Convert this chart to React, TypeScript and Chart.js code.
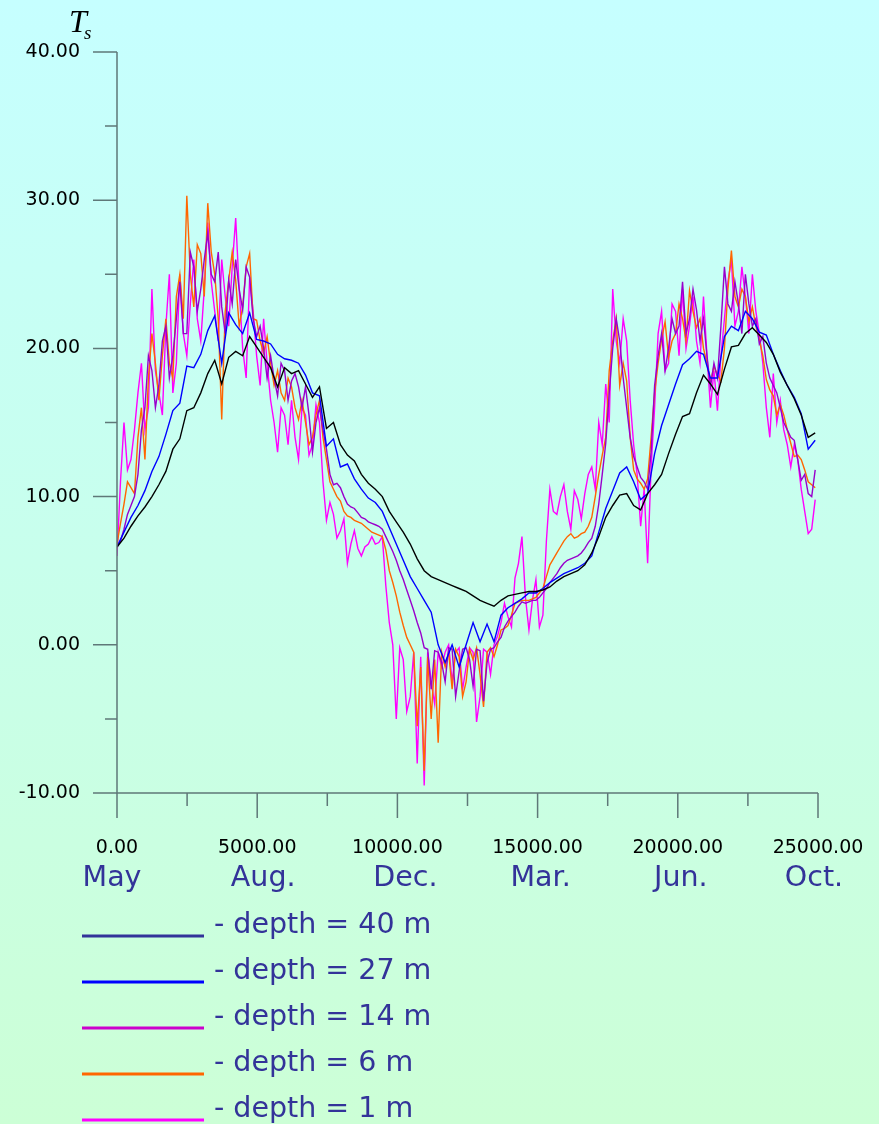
import React, { useEffect, useRef } from "react";
import { Chart, registerables } from "chart.js";

Chart.register(...registerables);

// x spacing of the samples (model time units)
const X_STEP = 249; // 40 m and 27 m records
const FINE_STEP = 124.5; // 14 m, 6 m and 1 m records
const X_MIN = 0;
const X_MAX = 25000;
const Y_MIN = -10;
const Y_MAX = 40;
const X_TICKS = [0, 5000, 10000, 15000, 20000, 25000];
const MONTH_LABELS = ["May", "Aug.", "Dec.", "Mar.", "Jun.", "Oct."];
const Y_TICKS = [-10, 0, 10, 20, 30, 40];
const SERIES_LABELS = [
  "- depth = 40 m",
  "- depth = 27 m",
  "- depth = 14 m",
  "- depth = 6 m",
  "- depth = 1 m",
];
const LINE_COLORS = ["#000000", "#0000ff", "#9900cc", "#ff6600", "#ff00ff"];
const LEGEND_COLORS = ["#333399", "#0000ff", "#cc00cc", "#ff6600", "#ff00ff"];

const DEPTH_40 = [
  6.6, 7.2, 8.0, 8.7, 9.3, 10.0, 10.8, 11.7, 13.2, 13.9,
  15.8, 16.0, 17.0, 18.3, 19.2, 17.6, 19.4, 19.8, 19.5, 20.8,
  20.1, 19.4, 18.7, 17.4, 18.7, 18.3, 18.5, 17.6, 16.7, 17.4,
  14.6, 15.0, 13.5, 12.8, 12.4, 11.5, 10.9, 10.5, 10.0, 9.0,
  8.3, 7.6, 6.8, 5.8, 5.0, 4.6, 4.4, 4.2, 4.0, 3.8,
  3.6, 3.3, 3.0, 2.8, 2.6, 3.0, 3.3, 3.4, 3.5, 3.6,
  3.6, 3.7, 3.9, 4.3, 4.6, 4.8, 5.0, 5.4, 6.2, 7.3,
  8.6, 9.4, 10.1, 10.2, 9.4, 9.1, 10.2, 10.8, 11.5, 12.9,
  14.2, 15.4, 15.6, 17.0, 18.2, 17.6, 16.9, 18.6, 20.1, 20.2,
  21.0, 21.4, 20.9, 20.4, 19.6, 18.4, 17.5, 16.6, 15.5, 14.0, 14.3,
];

const DEPTH_27 = [
  6.6, 7.6, 8.6, 9.4, 10.4, 11.7, 12.7, 14.2, 15.8, 16.3,
  18.8, 18.7, 19.6, 21.2, 22.2, 19.0, 22.4, 21.6, 21.0, 22.4,
  20.6, 20.5, 20.3, 19.6, 19.3, 19.2, 19.0, 18.2, 17.0, 16.8,
  13.4, 13.9, 12.0, 12.2, 11.2, 10.5, 9.9, 9.6, 9.0, 7.9,
  6.8, 5.7, 4.6, 3.8, 3.0, 2.2, 0.0, -1.2, 0.0, -1.5,
  0.0, 1.5, 0.2, 1.4, 0.2, 2.0, 2.5, 2.8, 3.1, 3.5,
  3.5, 3.8, 4.2, 4.5, 4.8, 5.0, 5.2, 5.5, 6.0, 7.6,
  9.2, 10.4, 11.6, 12.0, 11.0, 9.8, 10.2, 12.9, 14.8, 16.2,
  17.6, 18.9, 19.3, 19.8, 19.6, 18.0, 18.0, 20.8, 21.5, 21.2,
  22.5, 22.0, 21.1, 20.9, 19.6, 18.5, 17.5, 16.7, 15.6, 13.2, 13.8,
];

const DEPTH_14 = [
  6.6, 7.0, 7.8, 8.8, 9.4, 10.0, 11.5, 14.5, 16.0, 19.5, 18.5, 16.0, 17.5, 20.5, 21.5, 18.0, 19.5, 22.0, 24.5, 21.0,
  21.0, 26.5, 25.5, 22.5, 24.0, 26.0, 27.8, 25.0, 24.5, 26.5, 22.8, 21.0, 24.6, 23.0, 26.0, 24.0, 22.6, 25.5, 24.8, 22.0,
  20.8, 21.5, 20.0, 18.0, 19.5, 18.0, 16.8, 19.0, 18.5, 16.5, 17.8, 18.3, 17.4, 16.0, 17.4, 15.5, 13.0, 15.0, 16.0, 14.5,
  13.2, 11.5, 10.8, 10.9, 10.6, 10.0, 9.5, 9.3, 9.2, 8.9, 8.6, 8.5, 8.3, 8.2, 8.1, 8.0, 7.8, 7.3, 6.8, 6.3,
  5.7, 5.0, 4.4, 3.7, 3.0, 2.3, 1.5, 0.8, -0.2, -0.3, -3.0, -0.4, -0.5, -1.2, -2.5, -0.2, -0.3, -3.5, -1.8, -0.3,
  -0.2, -1.0, -2.8, -0.3, -0.4, -3.8, -1.2, -0.3, -0.2, 0.2, 0.5, 1.2, 1.6, 1.9, 2.2, 2.6, 2.9, 2.8, 2.9, 3.0,
  3.0, 3.2, 3.5, 3.8, 4.2, 4.5, 4.8, 5.2, 5.5, 5.7, 5.8, 5.9, 6.0, 6.2, 6.5, 6.9, 7.2, 8.0, 9.5, 11.5,
  13.6, 17.0, 20.0, 22.0, 20.5, 18.0, 16.0, 14.0, 12.7, 12.0, 11.3, 11.0, 10.5, 13.0, 17.5, 19.5, 21.0, 18.5, 20.0, 22.0,
  21.0, 21.5, 24.5, 21.0, 22.0, 24.0, 22.6, 20.5, 22.0, 19.5, 17.4, 19.0, 18.0, 21.5, 25.5, 23.0, 22.5, 24.5, 23.0, 21.0,
  25.0, 23.0, 21.5, 22.0, 20.3, 20.8, 19.0, 18.0, 17.5, 17.0, 16.0, 15.0, 14.5, 14.0, 13.8, 12.5, 11.1, 11.5, 10.2, 10.0, 11.8,
];

const DEPTH_6 = [
  6.8, 8.2, 9.5, 11.0, 10.6, 10.2, 14.0, 16.0, 12.5, 18.0, 21.0, 19.0, 16.5, 19.5, 22.0, 19.0, 18.0, 23.5, 25.0, 22.0,
  30.3, 25.0, 22.8, 27.0, 26.4, 23.5, 29.8, 26.5, 25.0, 22.0, 15.2, 22.5, 24.6, 26.5, 24.6, 21.5, 22.8, 25.5, 26.4, 22.0,
  21.9, 20.5, 19.7, 20.8, 19.0, 17.5, 18.5, 17.0, 16.5, 18.0, 17.4, 16.0, 15.2, 16.5, 15.0, 13.5, 14.0, 15.5, 16.5, 14.0,
  12.5, 11.0, 10.5, 10.0, 9.7, 9.0, 8.7, 8.6, 8.4, 8.3, 8.2, 8.0, 7.8, 7.6, 7.5, 7.4, 7.3, 6.4, 5.0, 4.2,
  3.3, 2.2, 1.3, 0.5, 0.0, -0.5, -5.5, -1.5, -8.5, -0.8, -5.0, -1.0, -6.6, -0.5, -1.5, -0.5, -3.0, -0.3, -0.8, -3.5,
  -2.5, -0.3, -1.0, -0.2, -2.0, -4.2, -0.5, -0.2, -0.8, 0.0, 1.0, 1.1, 1.3, 2.0, 2.8, 2.9, 3.0, 3.0, 3.0, 3.1,
  3.2, 3.5, 3.8, 4.6, 5.4, 5.8, 6.2, 6.6, 7.0, 7.3, 7.5, 7.2, 7.3, 7.5, 7.6, 8.0, 8.6, 10.0, 11.5, 12.8,
  14.0, 18.5, 20.5, 22.0, 17.5, 19.0, 17.8, 14.0, 11.8, 11.2, 10.9, 10.5, 11.2, 14.0, 17.0, 19.0, 20.6, 21.8, 19.4, 20.5,
  21.0, 23.0, 22.0, 20.5, 23.9, 22.5, 21.4, 22.0, 20.0, 19.0, 17.7, 18.8, 18.2, 17.8, 20.0, 24.0, 26.6, 23.5, 22.8, 24.0,
  23.5, 21.8, 22.8, 21.5, 20.6, 19.5, 17.9, 17.2, 16.8, 15.5, 16.2, 15.5, 14.5, 13.6, 12.7, 12.8, 12.5, 11.8, 11.0, 10.8, 10.6,
];

const DEPTH_1 = [
  6.0, 11.0, 15.0, 11.8, 12.5, 14.5, 17.0, 19.0, 14.5, 16.0, 24.0, 18.5, 17.0, 15.5, 21.5, 25.0, 17.0, 19.0, 25.0, 21.0,
  19.5, 23.0, 26.0, 22.0, 20.5, 24.0, 28.5, 24.5, 22.5, 20.5, 26.0, 23.5, 21.5, 25.5, 28.8, 24.0, 20.0, 18.0, 24.8, 22.5,
  19.5, 17.5, 22.0, 19.0, 16.5, 15.0, 13.0, 16.0, 15.5, 13.5, 16.5, 14.0, 12.5, 16.0, 15.5, 12.8, 13.5, 16.2, 15.0, 11.0,
  8.4, 9.6, 8.8, 7.2, 7.7, 8.5, 5.5, 6.8, 7.7, 6.5, 6.0, 6.6, 6.8, 7.3, 6.8, 6.9, 7.3, 4.0, 1.5, 0.0,
  -5.0, -0.2, -1.0, -4.5, -3.5, -0.5, -8.0, -0.8, -9.5, -0.5, -2.5, -4.0, -0.5, -1.5, -0.5, 0.0, -2.5, -0.5, -0.2, -3.0,
  -1.5, -0.2, -0.5, -5.2, -3.5, -0.3, -0.5, -2.0, 0.0, 0.6, 1.5, 2.8, 1.9, 1.2, 4.5, 5.5, 7.3, 3.2, 1.0, 3.0,
  4.4, 1.2, 2.0, 7.0, 10.5, 9.0, 8.8, 10.0, 10.8, 9.0, 7.8, 10.4, 9.8, 8.5, 10.2, 11.5, 12.0, 10.5, 15.0, 13.5,
  17.6, 15.0, 24.0, 20.5, 19.0, 22.0, 20.5, 16.5, 13.5, 11.5, 8.0, 10.5, 5.5, 12.0, 16.0, 21.0, 22.5, 18.5, 19.0, 23.0,
  22.5, 19.5, 24.0, 20.0, 21.5, 23.5, 20.5, 19.0, 23.5, 19.5, 16.0, 18.5, 15.8, 19.5, 22.0, 24.5, 26.0, 21.5, 22.5, 25.5,
  23.5, 21.0, 25.0, 22.5, 21.0, 19.0, 16.0, 14.0, 18.3, 15.0, 16.5, 14.5, 13.5, 12.0, 13.5, 12.5, 10.5, 9.0, 7.5, 7.8, 9.8,
];

const SERIES = [DEPTH_40, DEPTH_27, DEPTH_14, DEPTH_6, DEPTH_1];
const SERIES_STEPS = [X_STEP, X_STEP, FINE_STEP, FINE_STEP, FINE_STEP];

const W = 879;
const H = 1124;
const AXIS_COLOR = "#5f7878";
const TEXT_BLUE = "#333399";
const MONTH_DX = [-5, 6, 8, 3, 3, -4];

export default function App() {
  const ref = useRef<HTMLCanvasElement>(null);

  useEffect(() => {
    const canvas = ref.current;
    if (!canvas) return;

    const decor = {
      id: "decor",
      afterDraw(chart: any) {
        const { ctx } = chart;
        const xs = chart.scales.x;
        const ys = chart.scales.y;
        const x0 = xs.getPixelForValue(X_MIN);
        const x1 = xs.getPixelForValue(X_MAX);
        const yb = ys.getPixelForValue(Y_MIN);
        const yt = ys.getPixelForValue(Y_MAX);
        ctx.save();
        ctx.strokeStyle = AXIS_COLOR;
        ctx.lineWidth = 1.5;
        ctx.beginPath();
        ctx.moveTo(x0, yt);
        ctx.lineTo(x0, yb);
        ctx.lineTo(x1, yb);
        ctx.stroke();
        ctx.beginPath();
        for (let i = 0; i < Y_TICKS.length; i++) {
          const p = ys.getPixelForValue(Y_TICKS[i]);
          ctx.moveTo(x0 - 24, p);
          ctx.lineTo(x0, p);
          if (i < Y_TICKS.length - 1) {
            const m = ys.getPixelForValue((Y_TICKS[i] + Y_TICKS[i + 1]) / 2);
            ctx.moveTo(x0 - 12, m);
            ctx.lineTo(x0, m);
          }
        }
        for (let i = 0; i < X_TICKS.length; i++) {
          const p = xs.getPixelForValue(X_TICKS[i]);
          ctx.moveTo(p, yb);
          ctx.lineTo(p, yb + 25);
          if (i < X_TICKS.length - 1) {
            const m = xs.getPixelForValue((X_TICKS[i] + X_TICKS[i + 1]) / 2);
            ctx.moveTo(m, yb);
            ctx.lineTo(m, yb + 13);
          }
        }
        ctx.stroke();

        // month labels
        ctx.fillStyle = TEXT_BLUE;
        ctx.font = '28.5px "DejaVu Sans"';
        ctx.textAlign = "center";
        ctx.textBaseline = "alphabetic";
        for (let i = 0; i < X_TICKS.length; i++) {
          const p = xs.getPixelForValue(X_TICKS[i]);
          ctx.fillText(MONTH_LABELS[i], p + MONTH_DX[i], yb + 93);
        }

        // legend
        ctx.textAlign = "left";
        for (let i = 0; i < SERIES_LABELS.length; i++) {
          const base = 933 + i * 46;
          ctx.strokeStyle = LEGEND_COLORS[i];
          ctx.lineWidth = 3;
          ctx.beginPath();
          ctx.moveTo(82, base + 3);
          ctx.lineTo(204, base + 3);
          ctx.stroke();
          ctx.fillStyle = TEXT_BLUE;
          ctx.fillText(SERIES_LABELS[i], 214, base);
        }

        // axis title T_s
        ctx.fillStyle = "#000";
        ctx.font = 'italic 32px "Liberation Serif"';
        ctx.fillText("T", 69, 32);
        ctx.font = 'italic 19px "Liberation Serif"';
        ctx.fillText("s", 84, 39);
        ctx.restore();
      },
    };

    const chart = new Chart(canvas, {
      type: "line",
      data: {
        datasets: SERIES.map((vals, k) => ({
          label: SERIES_LABELS[k],
          data: vals.map((v, i) => ({ x: i * SERIES_STEPS[k], y: v })),
          borderColor: LINE_COLORS[k],
          backgroundColor: LINE_COLORS[k],
          borderWidth: 1.4,
          pointRadius: 0,
          tension: 0,
          fill: false,
        })),
      },
      options: {
        responsive: false,
        animation: false,
        devicePixelRatio: 1,
        layout: { padding: { top: 52, right: 61, left: 0, bottom: 0 } },
        plugins: { legend: { display: false }, tooltip: { enabled: false } },
        scales: {
          x: {
            type: "linear",
            min: X_MIN,
            max: X_MAX,
            grid: { display: false, drawTicks: false },
            border: { display: false },
            afterBuildTicks: (s: any) => {
              s.ticks = X_TICKS.map((v) => ({ value: v }));
            },
            afterFit: (s: any) => {
              s.height = H - 793;
              s.paddingLeft = 0;
              s.paddingRight = 0;
            },
            ticks: {
              autoSkip: false,
              maxRotation: 0,
              padding: 44,
              color: "#000",
              font: { family: "DejaVu Sans", size: 19 },
              callback: (v: any) => Number(v).toFixed(2),
            },
          },
          y: {
            type: "linear",
            min: Y_MIN,
            max: Y_MAX,
            grid: { display: false, drawTicks: false },
            border: { display: false },
            afterBuildTicks: (s: any) => {
              s.ticks = Y_TICKS.map((v) => ({ value: v }));
            },
            afterFit: (s: any) => {
              s.width = 117;
              s.paddingTop = 0;
              s.paddingBottom = 0;
            },
            ticks: {
              padding: 37,
              color: "#000",
              font: { family: "DejaVu Sans", size: 19 },
              callback: (v: any) => Number(v).toFixed(2),
            },
          },
        },
      },
      plugins: [decor],
    });
    return () => chart.destroy();
  }, []);

  return (
    <div
      style={{
        position: "absolute",
        left: 0,
        top: 0,
        width: W,
        height: H,
        background: "linear-gradient(to bottom, #c6ffff 0%, #c8ffec 50%, #ccffd6 100%)",
      }}
    >
      <canvas ref={ref} width={W} height={H} style={{ display: "block", width: W, height: H }} />
    </div>
  );
}
